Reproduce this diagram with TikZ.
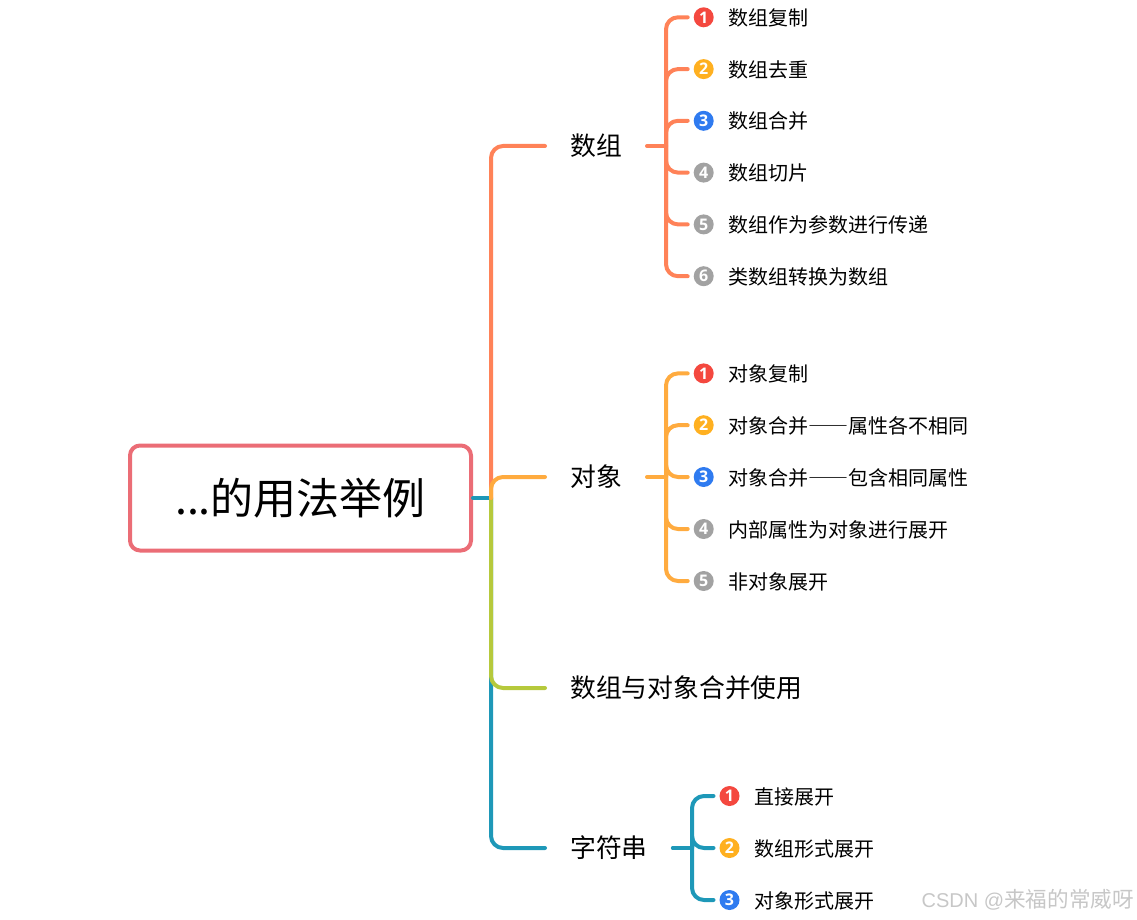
\documentclass[tikz,border=0pt]{standalone}
\usepackage{fontspec}
\usepackage{xcolor}
\setmainfont{Noto Sans CJK SC}
\newfontfamily\dashfont{Noto Sans CJK SC}[RawFeature=+fwid]
\newfontfamily\numfont{Open Sans}
\newfontfamily\markfont{Liberation Sans}
\definecolor{arrcol}{HTML}{FF8258}
\definecolor{objcol}{HTML}{FFAB3F}
\definecolor{mixcol}{HTML}{B6C93C}
\definecolor{strcol}{HTML}{1E98B8}
\definecolor{rootcol}{HTML}{EB6D76}
\definecolor{red1}{HTML}{F4483F}
\definecolor{yel2}{HTML}{FFB020}
\definecolor{blu3}{HTML}{2F7BF0}
\definecolor{gry4}{HTML}{A2A2A2}
\tikzset{
  every picture/.style={line join=round, line cap=round},
  link/.style={line width=4pt, rounded corners=12pt},
  rootbox/.style={draw=rootcol, line width=4pt, rounded corners=10pt, minimum width=341pt, minimum height=105pt, inner sep=0pt, font=\fontsize{43}{50}\selectfont},
  branch/.style={anchor=west, inner xsep=25pt, inner ysep=0pt, font=\fontsize{25.8}{30}\selectfont},
  bullet/.style={circle, fill=#1, text=white, minimum size=20pt, inner sep=0pt, outer sep=6pt, font=\fontsize{16}{16}\selectfont\numfont\bfseries},
  leaf/.style={anchor=west, inner sep=0pt, yshift=-0.6pt, font=\fontsize{20}{24}\selectfont},
}
\begin{document}
\begin{tikzpicture}[x=1pt,y=-1pt]
\useasboundingbox (0,0) rectangle (1137,920);
\node[rootbox](root) at (300.5,498){...的用法举例};
\coordinate(trunk) at (491,498);
\node[branch](arr) at (545,146){数组};
\node[branch](obj) at (545,477){对象};
\node[branch](mix) at (545,688){数组与对象合并使用};
\node[branch](str) at (545,848){字符串};
% main branches
\draw[link,strcol](root.east)--(trunk);
\draw[link,strcol](trunk)|-(str.west);
\draw[link,mixcol](trunk)|-(mix.west);
\draw[link,arrcol](trunk)|-(arr.west);
\draw[link,objcol](trunk)|-(obj.west);
% array group
\coordinate(arrspine) at (666,146);
\draw[link,arrcol](arr.east)--(arrspine);
\foreach \i/\yy/\col/\txt in {1/17.3/red1/数组复制,2/69.1/yel2/数组去重,3/120.8/blu3/数组合并,4/172.6/gry4/数组切片,5/224.4/gry4/数组作为参数进行传递,6/276.2/gry4/类数组转换为数组}{
  \node[bullet=\col](arrb\i) at (703.7,\yy){\i};
  \node[leaf](arrt\i) at (728,\yy){\txt};
  \draw[link,arrcol](arrspine)|-(arrb\i.west);
}
% object group
\coordinate(objspine) at (666,477);
\draw[link,objcol](obj.east)--(objspine);
\foreach \i/\yy/\col/\txt in {1/373.4/red1/对象复制,2/425.2/yel2/对象合并{\dashfont ——}属性各不相同,3/477/blu3/对象合并{\dashfont ——}包含相同属性,4/529/gry4/内部属性为对象进行展开,5/581/gry4/非对象展开}{
  \node[bullet=\col](objb\i) at (703.7,\yy){\i};
  \node[leaf](objt\i) at (728,\yy){\txt};
  \draw[link,objcol](objspine)|-(objb\i.west);
}
% string group
\coordinate(strspine) at (692,848);
\draw[link,strcol](str.east)--(strspine);
\foreach \i/\yy/\col/\txt in {1/796/red1/直接展开,2/848/yel2/数组形式展开,3/900/blu3/对象形式展开}{
  \node[bullet=\col](strb\i) at (729.5,\yy){\i};
  \node[leaf](strt\i) at (754,\yy){\txt};
  \draw[link,strcol](strspine)|-(strb\i.west);
}
\node[anchor=east,inner sep=0pt,text=black!22,font=\fontsize{21.6}{24}\selectfont](mark) at (1134,900){{\markfont\fontsize{20}{24}\selectfont CSDN @}来福的常威呀};
\end{tikzpicture}
\end{document}
